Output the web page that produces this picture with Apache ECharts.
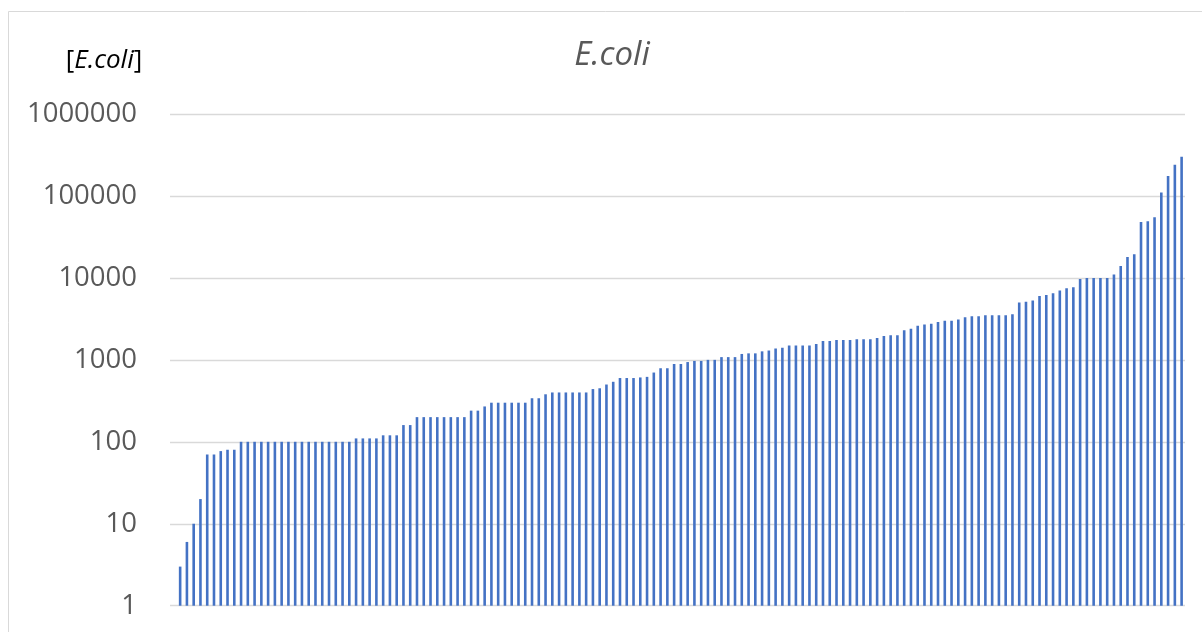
<!DOCTYPE html>
<html>
<head>
<meta charset="utf-8">
<title>E.coli</title>
<script src="https://cdn.jsdelivr.net/npm/echarts@6/dist/echarts.min.js"></script>
<style>
  html, body { margin: 0; padding: 0; background: #ffffff; }
  #chart { width: 1202px; height: 632px; }
</style>
</head>
<body>
<div id="chart"></div>
<script>
// E.coli counts per sample, sorted ascending (log scale).
// The first slot holds a count of 1, which sits on the axis base.
const ecoliCounts = [
  1,
  3, 6, 10, 20, 70, 70, 77, 80, 80,
  100, 100, 100, 100, 100, 100, 100, 100, 100, 100, 100, 100, 100, 100, 100, 100, 100,
  110, 110, 110, 110,
  120, 120, 120,
  160, 160,
  200, 200, 200, 200, 200, 200, 200, 200,
  240, 240, 270,
  300, 300, 300, 300, 300, 300,
  340, 340, 380,
  400, 400, 400, 400, 400, 400,
  440, 450, 500, 540,
  600, 600, 600, 610, 620, 700,
  790, 790, 890, 890, 940, 970, 970,
  1000, 1000, 1080, 1080, 1080, 1180, 1200, 1200, 1270, 1300, 1380, 1400,
  1500, 1500, 1500, 1500, 1560, 1700, 1700,
  1750, 1750, 1750, 1780, 1780, 1780, 1850, 1950, 2000, 2000,
  2300, 2400, 2600, 2700, 2750, 2900, 3000, 3000, 3100, 3300,
  3400, 3400, 3500, 3500, 3500, 3500, 3600,
  5000, 5100, 5300, 6000, 6200, 6500, 7000, 7500, 7700, 9700,
  10000, 10000, 10000, 10000, 11000, 14000, 18000, 19500,
  48000, 49000, 55000, 110000, 175000, 240000, 300000
];

// Sample numbers along the (unlabelled) category axis
const sampleIds = ecoliCounts.map((_, i) => String(i + 1));

// Log-axis bounds and decade step
const axisMin = 1;
const axisMax = 1000000;

const chart = echarts.init(document.getElementById('chart'), null, { renderer: 'canvas' });

chart.setOption({
  animation: false,
  backgroundColor: '#ffffff',
  grid: { left: 170, right: 17, top: 114, bottom: 26.3, containLabel: false },
  graphic: [
    {
      type: 'rect',
      silent: true,
      shape: { x: 8.5, y: 11.5, width: 1400, height: 800 },
      style: { fill: 'none', stroke: '#d9d9d9', lineWidth: 1 }
    },
    {
      type: 'text',
      silent: true,
      x: 612, y: 56,
      style: {
        text: 'E.coli',
        fontFamily: 'Open Sans',
        fontStyle: 'italic',
        fontSize: 33,
        fill: '#595959',
        align: 'center',
        verticalAlign: 'middle'
      }
    },
    {
      type: 'text',
      silent: true,
      x: 104, y: 61,
      style: {
        text: '{b|[}{i|E.coli}{b|]}',
        align: 'center',
        verticalAlign: 'middle',
        rich: {
          b: { fontFamily: 'Open Sans', fontSize: 26, fill: '#000000' },
          i: { fontFamily: 'Open Sans', fontStyle: 'italic', fontSize: 26, fill: '#000000' }
        }
      }
    }
  ],
  xAxis: {
    type: 'category',
    data: sampleIds,
    axisLine: { show: false },
    axisTick: { show: false },
    axisLabel: { show: false },
    splitLine: { show: false }
  },
  yAxis: {
    type: 'log',
    logBase: 10,
    min: axisMin,
    max: axisMax,
    interval: 1,
    axisLine: { show: false },
    axisTick: { show: false },
    axisLabel: {
      margin: 33,
      color: '#595959',
      fontFamily: 'Open Sans',
      fontSize: 27.5,
      formatter: (v) => String(Math.round(v))
    },
    splitLine: { show: true, lineStyle: { color: '#d9d9d9', width: 1.3 } }
  },
  series: [
    {
      type: 'bar',
      data: ecoliCounts,
      barWidth: 2.6,
      itemStyle: { color: '#4472C4' }
    }
  ]
});
</script>
</body>
</html>
